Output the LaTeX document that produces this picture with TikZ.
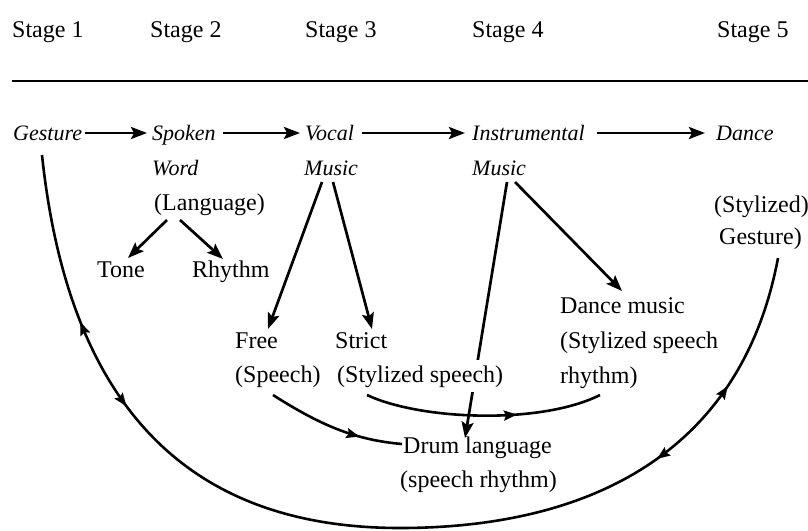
\documentclass[tikz,border=0pt]{standalone}
\usepackage{fontspec}
\setmainfont{Liberation Serif}
\usetikzlibrary{arrows.meta,calc,decorations.markings,backgrounds}
\begin{document}
\begin{tikzpicture}[x=1pt,y=-1pt,
  lbl/.style={anchor=base west,inner xsep=0pt,inner ysep=2pt,font=\fontsize{24}{28}\selectfont},
  ilbl/.style={lbl,font=\fontsize{22}{26}\selectfont\itshape},
  con/.style={line width=2.7pt,-{Stealth[length=16pt,width=12pt,inset=3pt]}},
  plain/.style={line width=2.6pt},
  midtip/.tip={Stealth[length=13pt,width=10pt,inset=2pt]}
]
\useasboundingbox (0,0) rectangle (808,530);
% header
\node[lbl] (s1) at (12,37) {Stage 1};
\node[lbl] (s2) at (150,37) {Stage 2};
\node[lbl] (s3) at (305,37) {Stage 3};
\node[lbl] (s4) at (472,37) {Stage 4};
\node[lbl] (s5) at (717,37) {Stage 5};
\coordinate (rl) at (12,81);
\coordinate (rr) at (808,81);
\draw[line width=2pt] (rl) -- (rr);
% main row
\node[ilbl] (gest) at (13,140) {Gesture};
\node[ilbl] (spoken) at (152,140) {Spoken};
\node[ilbl] (vocal) at (305,140) {Vocal};
\node[ilbl] (instr) at (472,140) {Instrumental};
\node[ilbl] (dance) at (716,140) {Dance};
\node[ilbl] (word) at (152,175) {Word};
\node[ilbl] (vmus) at (304,175) {Music};
\node[ilbl] (imus) at (472,175) {Music};
\node[lbl] (lang) at (154,210) {(Language)};
\node[lbl] (tone) at (97,277) {Tone};
\node[lbl] (rhythm) at (192,277) {Rhythm};
\node[lbl] (free) at (235,348) {Free};
\node[lbl] (speech) at (235,382) {(Speech)};
\node[lbl] (strict) at (335,348) {Strict};
\node[lbl,fill=white,inner ysep=5pt] (stylsp) at (337,382) {(Stylized speech)};
\node[lbl] (dm1) at (560,313) {Dance music};
\node[lbl] (dm2) at (560,348) {(Stylized speech};
\node[lbl] (dm3) at (560,383) {rhythm)};
\node[lbl] (sg1) at (714,212) {(Stylized)};
\node[lbl] (sg2) at (719,244) {Gesture)};
\node[lbl] (drum) at (403,453) {Drum language};
\node[lbl] (drum2) at (400,487) {(speech rhythm)};
\coordinate (ubot) at (400,528);
\begin{scope}[on background layer]
% horizontal arrows
\draw[con] ($(gest.base west)+(72,-7)$) -- ($(spoken.base west)+(-5,-7)$);
\draw[con] ($(spoken.base west)+(71,-7)$) -- ($(vocal.base west)+(-5,-7)$);
\draw[con] ($(vocal.base west)+(57,-7)$) -- ($(instr.base west)+(-7,-7)$);
\draw[con] ($(instr.base west)+(125,-7)$) -- ($(dance.base west)+(-11,-7)$);
% branches
\draw[con] ($(lang.base west)+(13,10)$) -- ($(tone.base west)+(31,-19)$);
\draw[con] ($(lang.base west)+(26,10)$) -- ($(rhythm.base west)+(31,-18)$);
\draw[con] ($(vmus.base west)+(18,7)$) -- ($(free.base west)+(33,-19)$);
\draw[con] ($(vmus.base west)+(29,7)$) -- ($(strict.base west)+(37,-19)$);
\draw[con] ($(imus.base west)+(35,7)$) -- ($(drum.base west)+(62,-15)$);
\draw[con] ($(imus.base west)+(43,7)$) -- ($(dm1.base west)+(62,-22)$);
% curves to drum language / dance music
\draw[plain,postaction={decorate},decoration={markings,mark=at position 0.69 with {\arrow{midtip}}}]
  ($(speech.base west)+(38,13)$) .. controls (320,425) and (355,440) .. ($(drum.base west)+(-1,-9)$);
\draw[plain,postaction={decorate},decoration={markings,mark=at position 0.64 with {\arrow{midtip}}}]
  ($(stylsp.base west)+(30,13)$) .. controls (420,420) and (540,425) .. ($(dm3.base west)+(40,12)$);
% big U
\draw[plain,postaction={decorate},decoration={markings,
    mark=at position 172pt with {\arrowreversed{midtip}},
    mark=at position 268pt with {\arrow{midtip}},
    mark=at position 850pt with {\arrowreversed{midtip}},
    mark=at position 952pt with {\arrow{midtip}}}]
  ($(gest.base west)+(29,15)$) .. controls (70,420) and (200,528) .. (ubot)
  .. controls (580,528) and (740,460) .. ($(sg2.base west)+(59,14)$);
\end{scope}
\end{tikzpicture}
\end{document}
